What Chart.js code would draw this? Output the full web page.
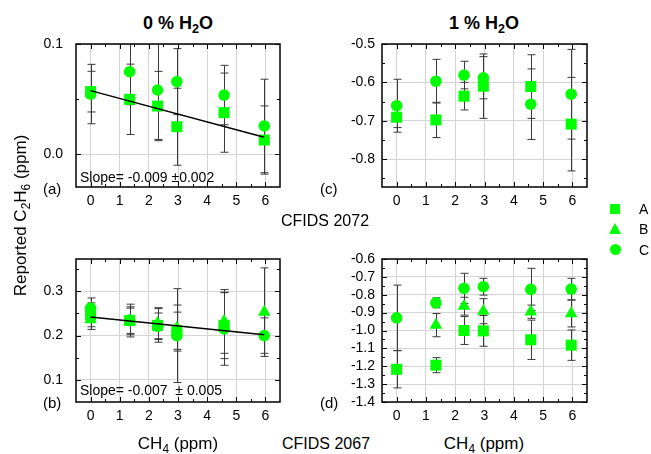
<!DOCTYPE html>
<html lang="en">
<head>
  <meta charset="UTF-8">
  <title>Reported C2H6 vs CH4</title>
  <script src="https://cdn.jsdelivr.net/npm/chart.js@4"></script>
  <style>
    body { margin: 0; background: #fff; font-family: "Liberation Sans", Arial, sans-serif; color: #000; }
    #page { position: relative; width: 651px; height: 454px; overflow: hidden; }
    canvas { position: absolute; }
    .txt { position: absolute; line-height: 1; white-space: nowrap; }
    .ctr { transform: translateX(-50%); }
    .sub { font-size: 0.7em; position: relative; top: 0.35em; }
    .title { font-size: 18px; font-weight: bold; }
    .ax { font-size: 16px; }
    .ch4 { font-size: 17px; }
    .lab { font-size: 15px; }
    #ytitle { position: absolute; width: 220px; text-align: center; font-size: 17px; line-height: 17px;
              left: -89px; top: 206px; transform: rotate(-90deg); white-space: nowrap; }
    .mk { position: absolute; }
  </style>
</head>
<body>
<div id="page">
  <canvas id="chartA" width="270" height="180" style="left:20px;top:36px"></canvas>
  <canvas id="chartB" width="270" height="180" style="left:20px;top:251px"></canvas>
  <canvas id="chartC" width="271" height="180" style="left:326px;top:36px"></canvas>
  <canvas id="chartD" width="271" height="180" style="left:326px;top:251px"></canvas>

  <div class="txt title ctr" style="left:178px;top:14px">0 % H<span class="sub">2</span>O</div>
  <div class="txt title ctr" style="left:484px;top:14px">1 % H<span class="sub">2</span>O</div>

  <div class="txt lab" style="left:43px;top:181px">(a)</div>
  <div class="txt lab" style="left:43px;top:395px">(b)</div>
  <div class="txt lab" style="left:320px;top:181px">(c)</div>
  <div class="txt lab" style="left:320px;top:395px">(d)</div>

  <div class="txt" style="left:80px;top:170px;font-size:14px">Slope= -0.009 &#177;0.002</div>
  <div class="txt" style="left:80px;top:383px;font-size:14px">Slope= -0.007 &#160;&#177; 0.005</div>

  <div class="txt ax" style="left:281px;top:213px">CFIDS 2072</div>
  <div class="txt ax" style="left:282px;top:436px">CFIDS 2067</div>
  <div class="txt ch4 ctr" style="left:178px;top:435px">CH<span class="sub">4</span> (ppm)</div>
  <div class="txt ch4 ctr" style="left:484px;top:435px">CH<span class="sub">4</span> (ppm)</div>

  <div id="ytitle">Reported C<span class="sub">2</span>H<span class="sub">6</span> (ppm)</div>

  <div class="mk" style="left:610px;top:204px;width:10px;height:10px;background:#00ff00"></div>
  <div class="mk" style="left:609px;top:223px;width:0;height:0;border-left:6.5px solid transparent;border-right:6.5px solid transparent;border-bottom:11px solid #00ff00"></div>
  <div class="mk" style="left:610px;top:244px;width:11px;height:11px;border-radius:50%;background:#00ff00"></div>
  <div class="txt" style="left:639px;top:202px;font-size:14px">A</div>
  <div class="txt" style="left:639px;top:222px;font-size:14px">B</div>
  <div class="txt" style="left:639px;top:243px;font-size:14px">C</div>
</div>

<script>
  // CH4 steps (ppm), shared by all panels
  const xVals = [0, 1.34, 2.3, 2.96, 4.58, 5.96];
  const xTicks = [0, 1, 2, 3, 4, 5, 6];
  const xMinor = [0.5, 1.5, 2.5, 3.5, 4.5, 5.5];

  // (a) CFIDS 2072, 0 % H2O
  const aA = [0.0567, 0.0497, 0.0436, 0.0248, 0.0376, 0.0127];
  const aAerr = [0.0185, 0.032, 0.0315, 0.035, 0.036, 0.031];
  const aC = [0.0545, 0.0748, 0.0582, 0.0658, 0.0536, 0.0255];
  const aCerr = [0.027, 0.03, 0.045, 0.03, 0.027, 0.0425];
  const aFit = [0.0576, 0.0152];
  const aTicks = [0.0, 0.1];
  const aLabels = ['0.0', '0.1'];
  const aMinor = [0.05];

  // (b) CFIDS 2067, 0 % H2O
  const bA = [0.247, 0.234, 0.223, 0.211, 0.223, null];
  const bAerr = [0.027, 0.037, 0.038, 0.042, 0.075, null];
  const bB = [0.236, 0.232, 0.228, 0.217, 0.232, 0.253];
  const bBerr = [0.022, 0.03, 0.035, 0.052, 0.072, 0.1];
  const bC = [0.262, 0.235, 0.221, 0.200, 0.215, 0.200];
  const bCerr = [0.023, 0.03, 0.03, 0.106, 0.082, 0.04];
  const bFit = [0.242, 0.202];
  const bTicks = [0.1, 0.2, 0.3];
  const bLabels = ['0.1', '0.2', '0.3'];
  const bMinor = [0.15, 0.25, 0.35];

  // (c) CFIDS 2072, 1 % H2O
  const cA = [-0.691, -0.698, -0.636, -0.610, -0.611, -0.709];
  const cAerr = [0.027, 0.046, 0.036, 0.084, 0.083, 0.122];
  const cC = [-0.661, -0.597, -0.581, -0.588, -0.657, -0.631];
  const cCerr = [0.069, 0.057, 0.036, 0.055, 0.092, 0.117];
  const cTicks = [-0.8, -0.7, -0.6, -0.5];
  const cLabels = ['-0.8', '-0.7', '-0.6', '-0.5'];
  const cMinor = [-0.85, -0.75, -0.65, -0.55];

  // (d) CFIDS 2067, 1 % H2O
  const dA = [-1.217, -1.194, -1.000, -1.002, -1.052, -1.082];
  const dAerr = [0.104, 0.042, 0.078, 0.086, 0.11, 0.085];
  const dB = [null, -0.970, -0.864, -0.892, -0.895, -0.905];
  const dBerr = [null, 0.065, 0.05, 0.07, 0.037, 0.075];
  const dC = [-0.929, -0.845, -0.764, -0.755, -0.770, -0.768];
  const dCerr = [0.183, 0.028, 0.084, 0.047, 0.118, 0.06];
  const dTicks = [-1.4, -1.3, -1.2, -1.1, -1.0, -0.9, -0.8, -0.7, -0.6];
  const dLabels = ['-1.4', '-1.3', '-1.2', '-1.1', '-1.0', '-0.9', '-0.8', '-0.7', '-0.6'];
  const dMinor = [-1.35, -1.25, -1.15, -1.05, -0.95, -0.85, -0.75, -0.65];

  const GREEN = '#00ff00';
  const FONT = "'Liberation Sans', Arial, sans-serif";

  function series(label, style, radius, values, errors) {
    const pts = [];
    values.forEach((v, i) => {
      if (v !== null) pts.push({ x: xVals[i], y: v, e: errors[i] });
    });
    return {
      type: 'scatter', label: label, data: pts, order: 1,
      pointStyle: style, pointRadius: radius, pointHoverRadius: radius,
      backgroundColor: GREEN, borderColor: GREEN, borderWidth: 0
    };
  }

  function fitLine(vals) {
    return {
      type: 'line', label: 'fit', order: 0,
      data: [{ x: xVals[0], y: vals[0] }, { x: xVals[xVals.length - 1], y: vals[1] }],
      borderColor: '#000', borderWidth: 1.5, pointRadius: 0, fill: false
    };
  }

  // error bars, behind the markers
  const errorBarPlugin = {
    id: 'errorBars',
    beforeDatasetsDraw(chart) {
      const ctx = chart.ctx, ys = chart.scales.y, area = chart.chartArea;
      ctx.save();
      ctx.beginPath();
      ctx.rect(area.left, area.top, area.right - area.left, area.bottom - area.top);
      ctx.clip();
      ctx.strokeStyle = '#3a3a3a';
      ctx.lineWidth = 1;
      chart.data.datasets.forEach((ds, di) => {
        if (ds.type !== 'scatter') return;
        const meta = chart.getDatasetMeta(di);
        ds.data.forEach((p, j) => {
          if (p.e == null) return;
          const x = Math.round(meta.data[j].x) + 0.5;
          const y1 = ys.getPixelForValue(p.y + p.e);
          const y2 = ys.getPixelForValue(p.y - p.e);
          ctx.beginPath();
          ctx.moveTo(x, y1); ctx.lineTo(x, y2);
          ctx.moveTo(x - 4, y1); ctx.lineTo(x + 4, y1);
          ctx.moveTo(x - 4, y2); ctx.lineTo(x + 4, y2);
          ctx.stroke();
        });
      });
      ctx.restore();
    }
  };

  // frame with inward ticks on all four sides
  const framePlugin = {
    id: 'frame',
    afterDraw(chart) {
      const ctx = chart.ctx, a = chart.chartArea;
      const xs = chart.scales.x, ys = chart.scales.y;
      const o = chart.options.plugins.frame;
      ctx.save();
      ctx.strokeStyle = '#000';
      ctx.lineWidth = 1;
      ctx.beginPath();
      const tick = (vals, len, isX) => {
        vals.forEach(v => {
          if (isX) {
            const px = Math.round(xs.getPixelForValue(v)) + 0.5;
            ctx.moveTo(px, a.bottom); ctx.lineTo(px, a.bottom - len);
            ctx.moveTo(px, a.top); ctx.lineTo(px, a.top + len);
          } else {
            const py = Math.round(ys.getPixelForValue(v)) + 0.5;
            ctx.moveTo(a.left, py); ctx.lineTo(a.left + len, py);
            ctx.moveTo(a.right, py); ctx.lineTo(a.right - len, py);
          }
        });
      };
      tick(xTicks, 5, true);
      tick(xMinor, 3, true);
      tick(o.yTicks, 5, false);
      tick(o.yMinor, 3, false);
      ctx.stroke();
      ctx.lineWidth = 1.5;
      ctx.strokeRect(a.left, a.top, a.right - a.left, a.bottom - a.top);
      ctx.restore();
    }
  };

  function makePanel(id, p) {
    const datasets = p.series.slice();
    if (p.fit) datasets.unshift(fitLine(p.fit));
    return new Chart(document.getElementById(id), {
      type: 'scatter',
      data: { datasets: datasets },
      options: {
        responsive: false,
        animation: false,
        events: [],
        layout: { padding: { left: 0, top: 8, right: 10, bottom: 0 } },
        plugins: {
          legend: { display: false },
          tooltip: { enabled: false },
          frame: { yTicks: p.yTicks, yMinor: p.yMinor }
        },
        scales: {
          x: {
            type: 'linear', min: -0.5, max: 6.5,
            afterBuildTicks: s => { s.ticks = xTicks.map(v => ({ value: v })); },
            afterFit: s => { s.height = 29; s.paddingLeft = 0; s.paddingRight = 0; },
            grid: { color: '#d4d4d4', drawTicks: false },
            border: { display: false },
            ticks: { autoSkip: false, padding: 6, color: '#000', font: { family: FONT, size: 14 },
                     callback: (v, i) => String(xTicks[i]) }
          },
          y: {
            type: 'linear', min: p.yMin, max: p.yMax,
            afterBuildTicks: s => { s.ticks = p.yTicks.map(v => ({ value: v })); },
            afterFit: s => { s.width = 56; s.paddingTop = 0; s.paddingBottom = 0; },
            grid: { color: '#d4d4d4', drawTicks: false },
            border: { display: false },
            ticks: { autoSkip: false, padding: p.labelPad, color: '#000', font: { family: FONT, size: 14 },
                     callback: (v, i) => p.yLabels[i] }
          }
        }
      },
      plugins: [errorBarPlugin, framePlugin]
    });
  }

  makePanel('chartA', {
    yMin: -0.03, yMax: 0.1, yTicks: aTicks, yLabels: aLabels, yMinor: aMinor, labelPad: 13,
    fit: aFit,
    series: [
      series('A', 'rect', 7.8, aA, aAerr),
      series('C', 'circle', 5.8, aC, aCerr)
    ]
  });

  makePanel('chartB', {
    yMin: 0.05, yMax: 0.373, yTicks: bTicks, yLabels: bLabels, yMinor: bMinor, labelPad: 13,
    fit: bFit,
    series: [
      series('A', 'rect', 7.8, bA, bAerr),
      series('B', 'triangle', 7.3, bB, bBerr),
      series('C', 'circle', 5.8, bC, bCerr)
    ]
  });

  makePanel('chartC', {
    yMin: -0.873, yMax: -0.5, yTicks: cTicks, yLabels: cLabels, yMinor: cMinor, labelPad: 7,
    series: [
      series('A', 'rect', 7.8, cA, cAerr),
      series('C', 'circle', 5.8, cC, cCerr)
    ]
  });

  makePanel('chartD', {
    yMin: -1.4, yMax: -0.6, yTicks: dTicks, yLabels: dLabels, yMinor: dMinor, labelPad: 7,
    series: [
      series('A', 'rect', 7.8, dA, dAerr),
      series('B', 'triangle', 7.3, dB, dBerr),
      series('C', 'circle', 5.8, dC, dCerr)
    ]
  });
</script>
</body>
</html>
